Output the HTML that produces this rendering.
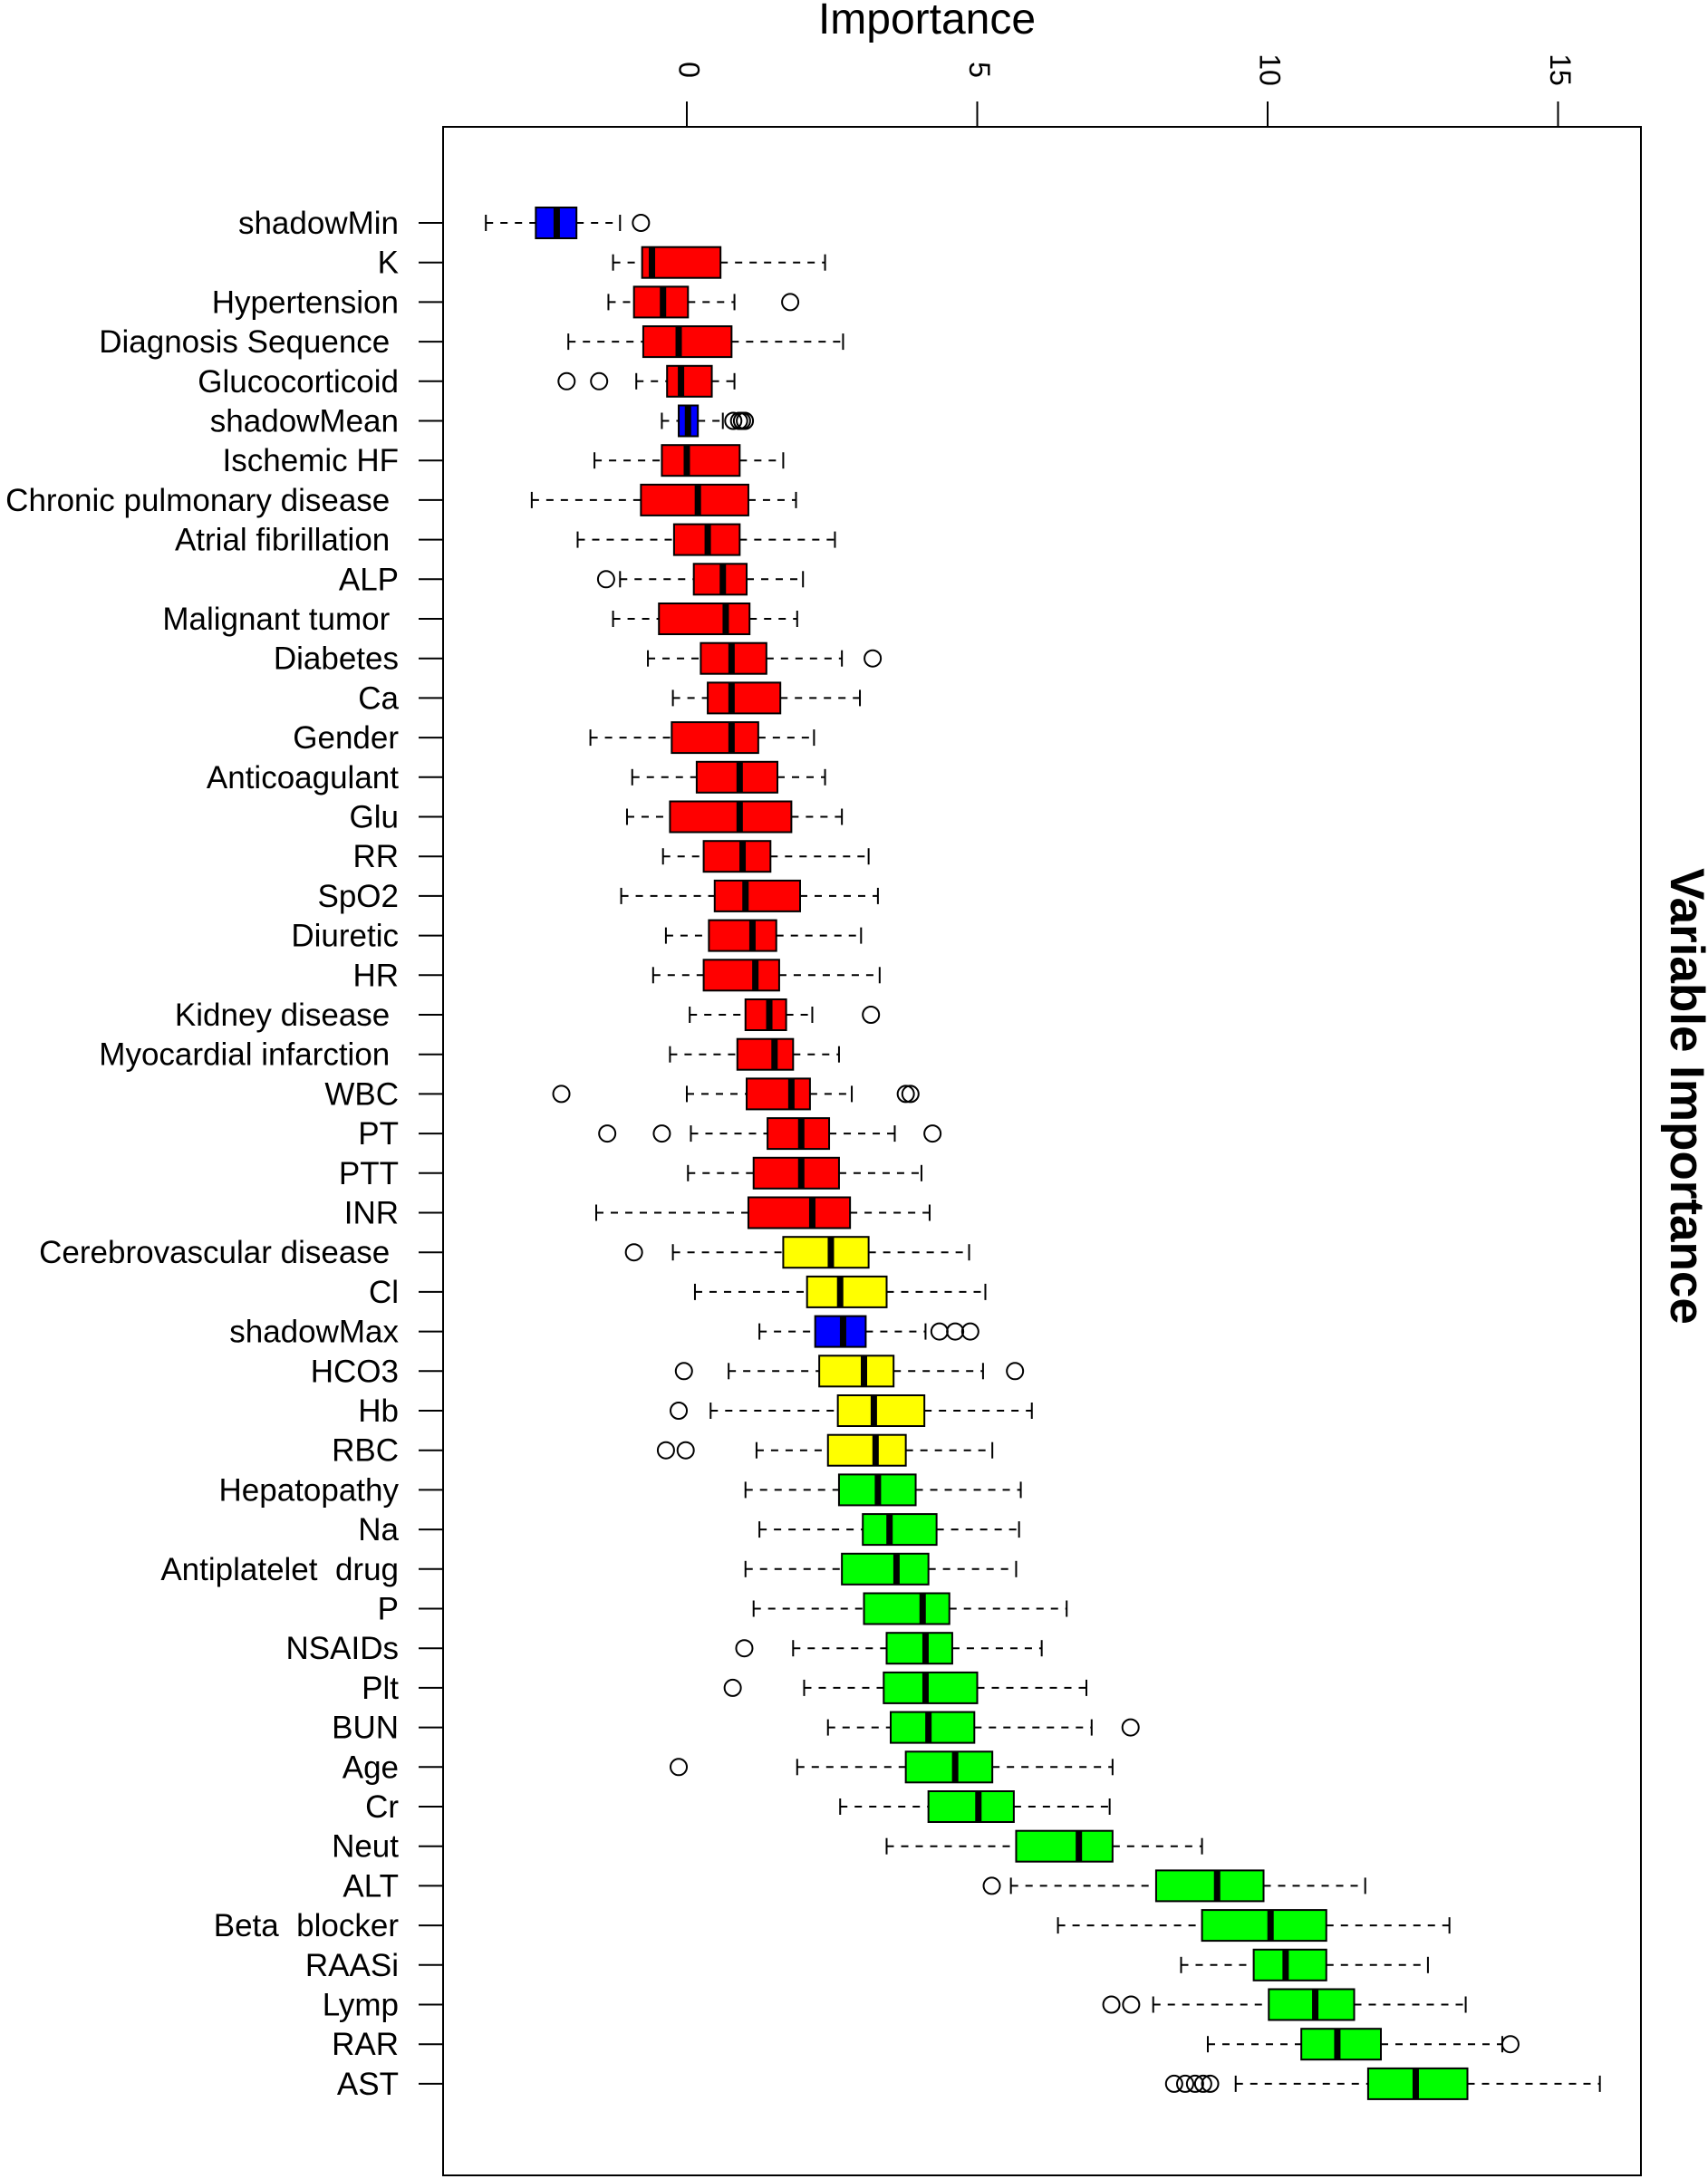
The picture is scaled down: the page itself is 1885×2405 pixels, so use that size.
<!DOCTYPE html>
<html><head><meta charset="utf-8"><style>
html,body{margin:0;padding:0;background:#fff;}
svg{display:block;font-family:"Liberation Sans",sans-serif;}
.lbl{white-space:pre;}
</style></head><body>
<svg id="chart" width="1885" height="2405" viewBox="0 0 1885 2405" xmlns="http://www.w3.org/2000/svg"></svg>
<script>
const names=["shadowMin","K","Hypertension","Diagnosis Sequence ","Glucocorticoid","shadowMean","Ischemic HF","Chronic pulmonary disease ","Atrial fibrillation ","ALP","Malignant tumor ","Diabetes","Ca","Gender","Anticoagulant","Glu","RR","SpO2","Diuretic","HR","Kidney disease ","Myocardial infarction ","WBC","PT","PTT","INR","Cerebrovascular disease ","Cl","shadowMax","HCO3","Hb","RBC","Hepatopathy","Na","Antiplatelet  drug","P","NSAIDs","Plt","BUN","Age","Cr","Neut","ALT","Beta  blocker","RAASi","Lymp","RAR","AST"];
const groups=["b","r","r","r","r","b","r","r","r","r","r","r","r","r","r","r","r","r","r","r","r","r","r","r","r","r","y","y","b","y","y","y","g","g","g","g","g","g","g","g","g","g","g","g","g","g","g","g"];
const whiskLo=[-3.46,-1.27,-1.35,-2.04,-0.87,-0.43,-1.59,-2.67,-1.88,-1.15,-1.27,-0.67,-0.24,-1.66,-0.94,-1.03,-0.41,-1.13,-0.36,-0.58,0.05,-0.29,0,0.07,0.02,-1.56,-0.24,0.14,1.25,0.72,0.41,1.2,1.01,1.25,1.01,1.15,1.83,2.02,2.43,1.9,2.64,3.44,5.58,6.39,8.51,8.03,8.97,9.45];
const q1=[-2.6,-0.77,-0.91,-0.75,-0.34,-0.14,-0.43,-0.79,-0.22,0.12,-0.48,0.24,0.36,-0.26,0.17,-0.29,0.29,0.48,0.38,0.29,1.01,0.87,1.03,1.39,1.15,1.06,1.66,2.07,2.21,2.28,2.6,2.43,2.62,3.03,2.67,3.05,3.44,3.39,3.51,3.77,4.16,5.67,8.08,8.87,9.76,10.02,10.58,11.73];
const medians=[-2.24,-0.6,-0.41,-0.14,-0.1,0.02,0,0.19,0.36,0.62,0.67,0.77,0.77,0.77,0.91,0.91,0.96,1.01,1.13,1.18,1.42,1.51,1.8,1.97,1.97,2.16,2.48,2.64,2.69,3.05,3.22,3.25,3.29,3.49,3.61,4.06,4.11,4.11,4.16,4.62,5.02,6.75,9.13,10.05,10.31,10.82,11.2,12.55];
const q3=[-1.9,0.58,0.02,0.77,0.43,0.19,0.91,1.06,0.91,1.03,1.08,1.37,1.61,1.23,1.56,1.8,1.44,1.95,1.54,1.59,1.71,1.83,2.12,2.45,2.62,2.81,3.13,3.44,3.08,3.56,4.09,3.77,3.94,4.3,4.16,4.52,4.57,5.0,4.95,5.26,5.63,7.33,9.93,11.01,11.01,11.49,11.95,13.44];
const whiskHi=[-1.15,2.38,0.82,2.69,0.82,0.62,1.66,1.88,2.55,2.0,1.9,2.67,2.98,2.19,2.38,2.67,3.13,3.29,3.0,3.32,2.16,2.62,2.84,3.58,4.04,4.18,4.86,5.14,4.11,5.1,5.94,5.26,5.75,5.72,5.67,6.54,6.11,6.88,6.97,7.33,7.28,8.87,11.68,13.13,12.76,13.41,14.04,15.72];
const outliers=[[-0.79],[],[1.78],[],[-2.07,-1.51],[0.8,0.9,0.95,1.0],[],[],[],[-1.39],[],[3.2],[],[],[],[],[],[],[],[],[3.17],[],[-2.16,3.77,3.85],[-1.37,-0.43,4.23],[],[],[-0.91],[],[4.35,4.62,4.88],[-0.05,5.65],[-0.14],[-0.36,-0.02],[],[],[],[],[0.99],[0.79],[7.64],[-0.14],[],[],[5.25],[],[],[7.31,7.65],[14.18],[8.39,8.58,8.75,8.89,9.01]];
const xTicks=[0,5,10,15];
const colors={b:"#0000ff",r:"#ff0000",y:"#ffff00",g:"#00ff00"};
const svg=document.getElementById('chart');
const NS="http://www.w3.org/2000/svg";
const X=v=>758+v*64.1;
const Y=i=>246+i*43.7;
function mk(tag,attrs,name,parent){const e=document.createElementNS(NS,tag);for(const k in attrs)e.setAttribute(k,attrs[k]);


(parent||svg).appendChild(e);return e;}
mk('rect',{x:489,y:140,width:1322,height:2261,fill:'none',stroke:'#000','stroke-width':2},'plot-frame');
let t=mk('text',{x:1023,y:37,'font-size':48,'text-anchor':'middle'},'x-axis-title');t.textContent='Importance';
t=mk('text',{x:1858,y:1210,'font-size':53,'font-weight':'bold','text-anchor':'middle',transform:'rotate(90 1858 1210)','dominant-baseline':'middle'},'y-axis-title');t.textContent='Variable Importance';
xTicks.forEach(v=>{
 mk('line',{x1:X(v),x2:X(v),y1:112,y2:140,stroke:'#000','stroke-width':2},'x-tick');
 const tt=mk('text',{x:X(v),y:77,'font-size':32,'text-anchor':'middle','dominant-baseline':'middle',transform:`rotate(90 ${X(v)} 77)`},'x-tick-label');tt.textContent=v;
});
const bh=34,ch=18;
names.forEach((n,i)=>{
 const y=Y(i);
 const g=mk('g',{},'box-'+n.trim().replace(/\s+/g,'-').toLowerCase());
 mk('line',{x1:462,x2:489,y1:y,y2:y,stroke:'#000','stroke-width':2},'y-tick',g);
 const lb=mk('text',{x:440,y:y+12,'font-size':35,'text-anchor':'end','class':'lbl'},'y-tick-label',g);lb.textContent=n;
 mk('line',{x1:X(whiskLo[i]),x2:X(q1[i]),y1:y,y2:y,stroke:'#000','stroke-width':2,'stroke-dasharray':'8,8'},'whisker-low',g);
 mk('line',{x1:X(q3[i]),x2:X(whiskHi[i]),y1:y,y2:y,stroke:'#000','stroke-width':2,'stroke-dasharray':'8,8'},'whisker-high',g);
 mk('line',{x1:X(whiskLo[i]),x2:X(whiskLo[i]),y1:y-ch/2,y2:y+ch/2,stroke:'#000','stroke-width':2},'whisker-cap-low',g);
 mk('line',{x1:X(whiskHi[i]),x2:X(whiskHi[i]),y1:y-ch/2,y2:y+ch/2,stroke:'#000','stroke-width':2},'whisker-cap-high',g);
 mk('rect',{x:X(q1[i]),y:y-bh/2,width:X(q3[i])-X(q1[i]),height:bh,fill:colors[groups[i]],stroke:'#000','stroke-width':2},'box',g);
 mk('line',{x1:X(medians[i]),x2:X(medians[i]),y1:y-bh/2,y2:y+bh/2,stroke:'#000','stroke-width':7},'median',g);
 outliers[i].forEach(o=>mk('circle',{cx:X(o),cy:y,r:9,fill:'none',stroke:'#000','stroke-width':2},'outlier',g));
});
</script>
</body></html>
